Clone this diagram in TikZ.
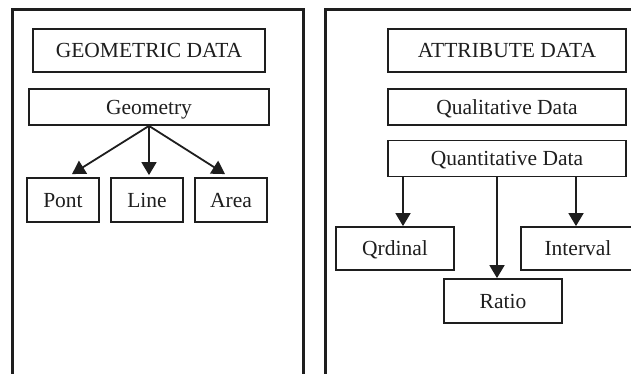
\documentclass[tikz,border=0pt]{standalone}
\usepackage{fontspec}
\setmainfont{Liberation Serif}
\usetikzlibrary{arrows.meta,positioning,calc}
\definecolor{ink}{HTML}{1E1E1E}
\tikzset{
  framepanel/.style={draw=ink, line width=3pt},
  databox/.style={
    rectangle, draw=ink, line width=1.8pt,
    minimum width=#1, minimum height=36pt,
    font=\fontsize{21.5}{25}\selectfont, text=ink,
    text height=15pt, text depth=0.8pt,
    inner sep=0pt
  },
  databox/.default=240pt,
  leafbox/.style={databox=#1, minimum height=44pt},
  leafbox/.default=72pt,
  headbox/.style={databox=#1, minimum height=43pt},
  flowarrow/.style={
    -{Triangle[length=13pt, width=15pt]}, line width=1.8pt, draw=ink
  },
}

\begin{document}
\begin{tikzpicture}[x=1pt, y=-1pt]
  \useasboundingbox (0,0) rectangle (631,374);
  \clip (0,0) rectangle (631,374);

  % panel frames
  \draw[framepanel] (12,380) -- (12,10) -- (303,10) -- (303,380);
  \draw[framepanel] (325,380) -- (325,10) -- (640,10);

  % geometric side
  \node[headbox=232pt] (geodata) at (149,50.5) {GEOMETRIC DATA};
  \node[databox] (geometry) at (149,107) {Geometry};
  \node[leafbox] (pont) at (63,200) {Pont};
  \node[leafbox] (line) at (147,200) {Line};
  \node[leafbox] (area) at (231,200) {Area};
  \draw[flowarrow] (geometry.south) -- ([xshift=9pt, yshift=3pt]pont.north);
  \draw[flowarrow] (geometry.south) -- ([xshift=2pt, yshift=2pt]line.north);
  \draw[flowarrow] (geometry.south) -- ([xshift=-6pt, yshift=3pt]area.north);

  % attribute side
  \node[headbox=238pt] (attrdata) at (507,50.5) {ATTRIBUTE DATA};
  \node[databox=238pt] (qualit) at (507,107) {Qualitative Data};
  \node[databox=238pt] (quantit) at (507,158.5) {Quantitative Data};
  \node[leafbox=118pt, minimum height=43pt] (qrdinal) at (395,248.5) {Qrdinal};
  \node[leafbox=114pt, minimum height=43pt] (interval) at (578,248.5) {Interval};
  \node[leafbox=118pt] (ratio) at (503,301) {Ratio};
  \draw[flowarrow] (quantit.south -| 403,0) -- (qrdinal.north -| 403,0);
  \draw[flowarrow] (quantit.south -| 497,0) -- (ratio.north -| 497,0);
  \draw[flowarrow] (quantit.south -| 576,0) -- (interval.north -| 576,0);
\end{tikzpicture}
\end{document}
